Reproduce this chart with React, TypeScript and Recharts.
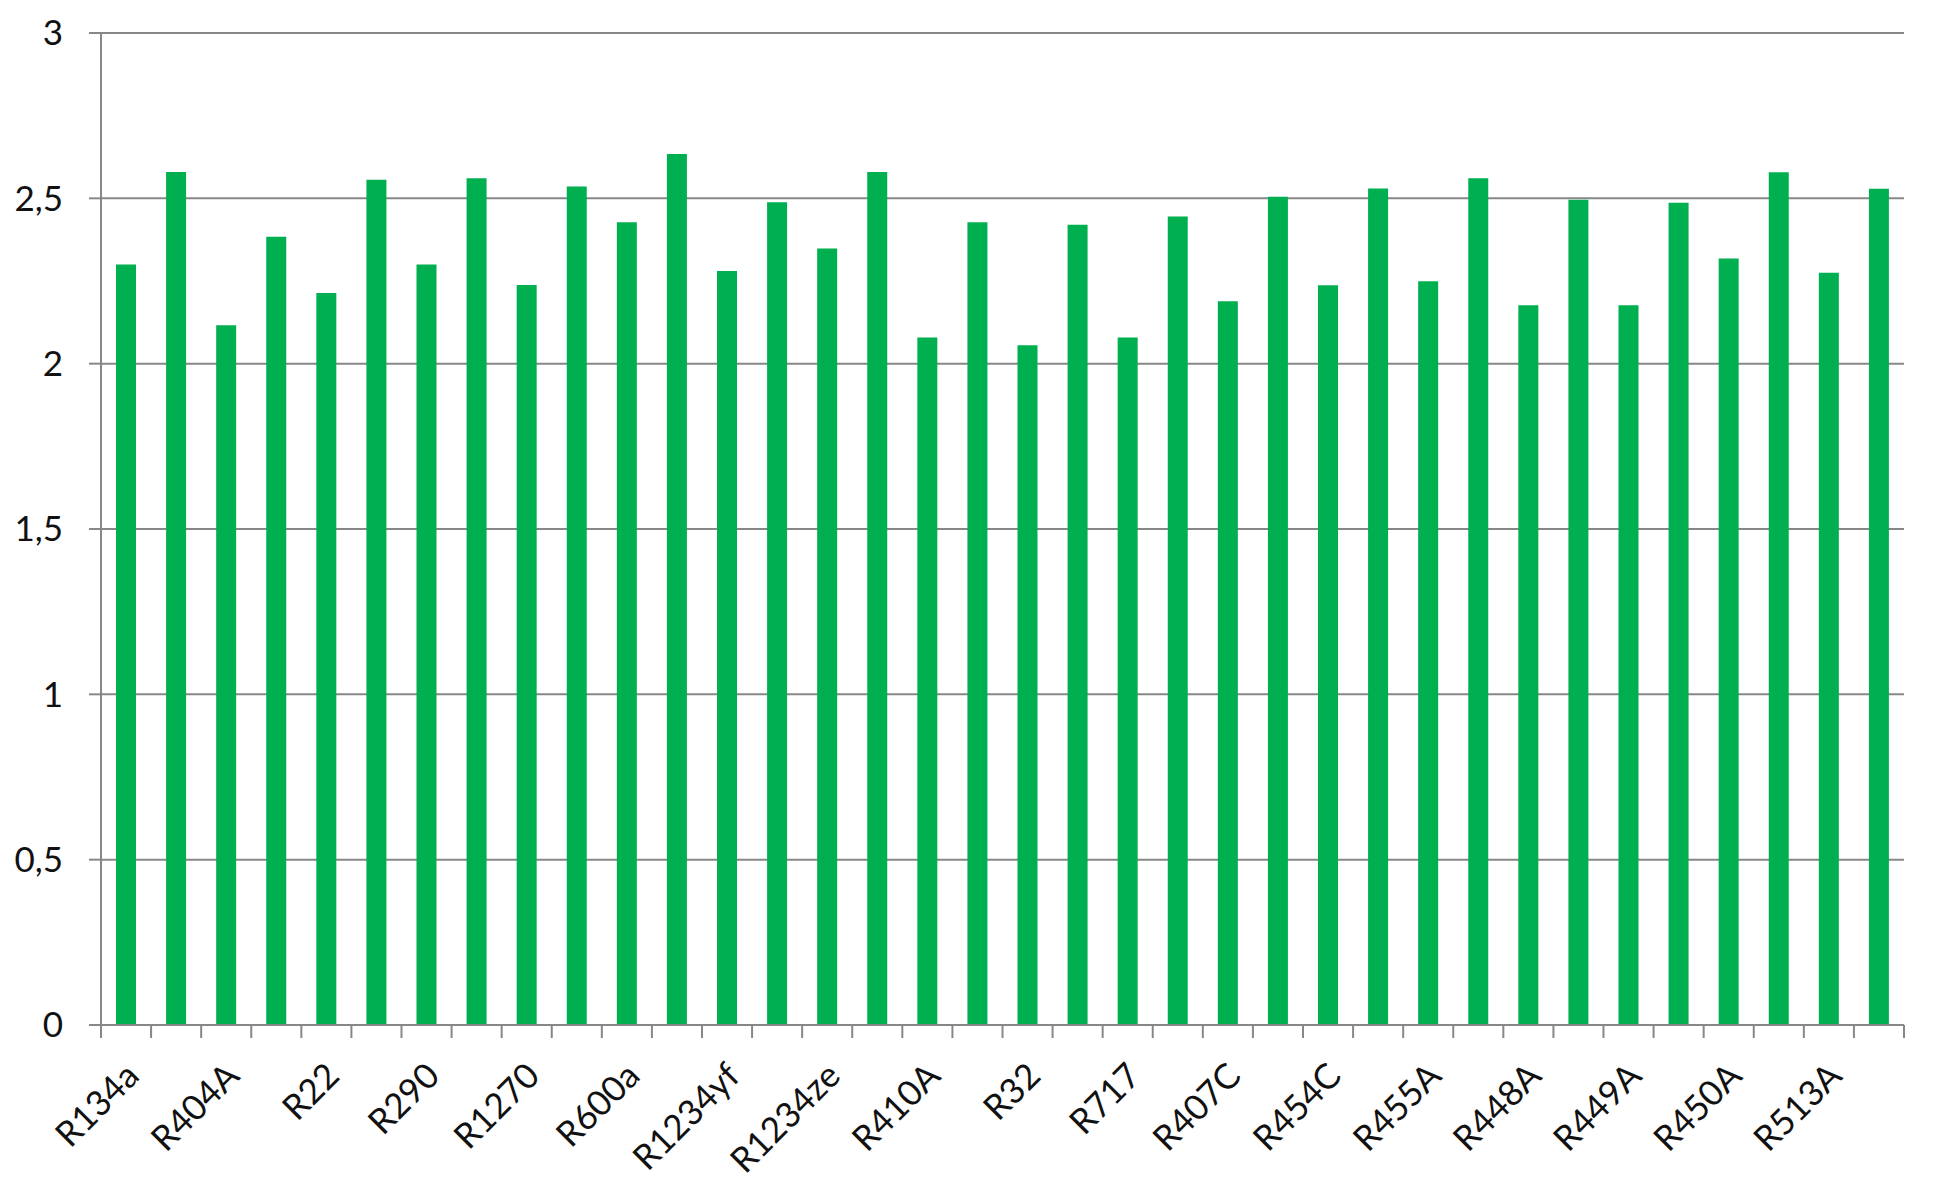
import React from 'react';
import { BarChart, Bar, XAxis, YAxis, CartesianGrid } from 'recharts';

const refrigerants = [
  'R134a', 'R404A', 'R22', 'R290', 'R1270', 'R600a', 'R1234yf', 'R1234ze', 'R410A',
  'R32', 'R717', 'R407C', 'R454C', 'R455A', 'R448A', 'R449A', 'R450A', 'R513A',
];
// first bar of each pair
const valuesFirst = [
  2.30, 2.116, 2.214, 2.30, 2.238, 2.428, 2.28, 2.348, 2.079,
  2.056, 2.079, 2.189, 2.237, 2.249, 2.177, 2.177, 2.318, 2.275,
];
// second bar of each pair
const valuesSecond = [
  2.58, 2.384, 2.556, 2.561, 2.536, 2.634, 2.488, 2.58, 2.428,
  2.42, 2.445, 2.505, 2.53, 2.561, 2.496, 2.487, 2.579, 2.529,
];
const yTicks = [0, 0.5, 1, 1.5, 2, 2.5, 3];

const data = refrigerants.flatMap((r, i) => [
  { key: `${r}-1`, label: r, value: valuesFirst[i] },
  { key: `${r}-2`, label: '', value: valuesSecond[i] },
]);

const W = 1948;
const H = 1203;
const M = { top: 33, right: 44, left: 0, bottom: 0 };
const Y_W = 101;
const X_H = 178;
const N = data.length;
const BAND = (W - Y_W - M.right) / N;
const AXIS = '#878787';
const FONT = 'Lato, "Open Sans", sans-serif';
const TXT = '#111111';

const XTick = (props: any) => {
  const { x, y, payload } = props;
  const i = payload.index;
  const d = data[i];
  const half = BAND / 2;
  const ax = x + 15;
  const ay = y + 53;
  return (
    <g>
      <line x1={x - half} y1={y} x2={x - half} y2={y + 13} stroke={AXIS} strokeWidth={2} />
      {i === N - 1 && (
        <line x1={x + half} y1={y} x2={x + half} y2={y + 13} stroke={AXIS} strokeWidth={2} />
      )}
      {d && d.label ? (
        <text
          x={ax}
          y={ay}
          textAnchor="end"
          fontSize={35}
          fontFamily={FONT}
          fill={TXT}
          transform={`rotate(-45, ${ax}, ${ay})`}
        >
          {d.label}
        </text>
      ) : null}
    </g>
  );
};

export default function App() {
  return (
    <div style={{ position: 'absolute', left: 0, top: 0, width: W, height: H, background: '#fff' }}>
      <BarChart width={W} height={H} data={data} margin={M} barSize={20}>
        <CartesianGrid vertical={false} stroke={AXIS} strokeWidth={2} />
        <XAxis
          dataKey="key"
          interval={0}
          height={X_H}
          tickSize={0}
          tickMargin={0}
          tickLine={false}
          axisLine={{ stroke: AXIS, strokeWidth: 2 }}
          tick={<XTick />}
        />
        <YAxis
          width={Y_W}
          domain={[0, 3]}
          ticks={yTicks}
          interval={0}
          tickSize={12}
          tickMargin={26}
          tickLine={{ stroke: AXIS, strokeWidth: 2 }}
          axisLine={{ stroke: AXIS, strokeWidth: 2 }}
          tick={{ fontSize: 35, fontFamily: FONT, fill: TXT }}
          tickFormatter={(v: number) => String(v).replace('.', ',')}
        />
        <Bar dataKey="value" fill="#00B050" isAnimationActive={false} />
      </BarChart>
    </div>
  );
}
